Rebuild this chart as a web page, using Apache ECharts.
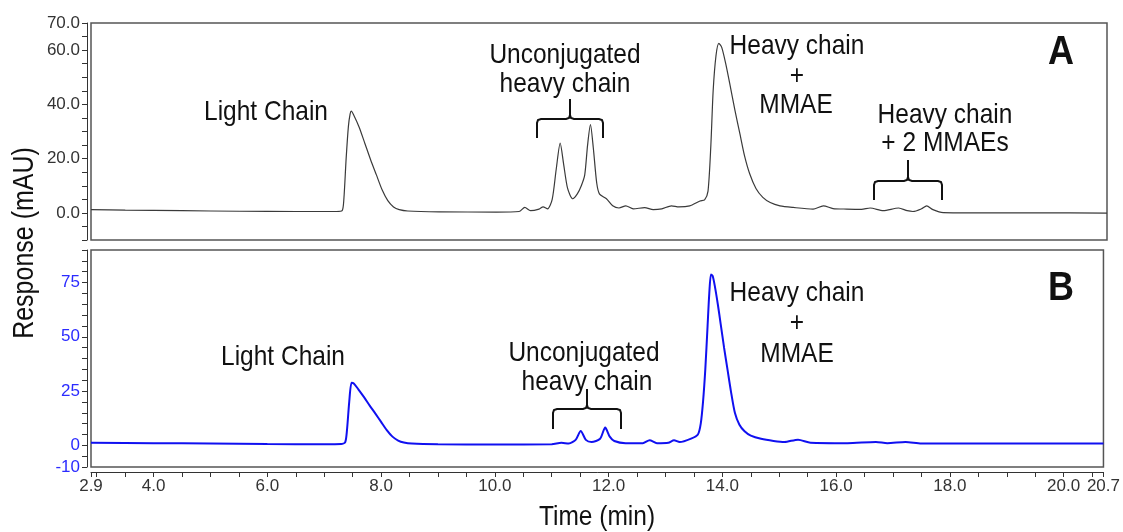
<!DOCTYPE html>
<html><head><meta charset="utf-8">
<script src="https://cdn.jsdelivr.net/npm/echarts@6/dist/echarts.min.js"></script>
<style>html,body{margin:0;padding:0;background:#fff}#c{width:1123px;height:532px}</style>
</head><body><div id="c"></div>
<script>
// ---- Data ----
const timeA = [2.9,3.5,4.5,5.5,6.5,7.2,7.3,7.33,7.37,7.41,7.44,7.46,7.5,7.6,7.7,7.8,7.9,8.0,8.1,8.2,8.3,8.45,9.0,10.0,10.4,10.5,10.6,10.75,10.82,10.9,10.98,11.05,11.12,11.18,11.25,11.34,11.42,11.49,11.55,11.6,11.65,11.7,11.76,11.81,11.93,12.04,12.15,12.27,12.4,12.6,12.75,12.9,13.07,13.2,13.39,13.57,13.65,13.71,13.76,13.8,13.85,13.9,13.95,14.02,14.09,14.18,14.27,14.35,14.44,14.55,14.67,14.8,14.97,15.2,15.55,15.73,15.9,16.14,16.4,16.55,16.78,17.05,17.2,17.3,17.45,17.54,17.65,17.83,18.5,19.5,20.7];
const respA = [1.2,1.0,0.8,0.6,0.5,0.5,0.8,5,20,32,36.5,37.5,36.2,31.5,25.5,19.5,14,8.5,4.5,2.2,1.2,0.7,0.4,0.3,0.5,2.0,0.8,1.4,2.2,1.5,5,16,25.7,18,9,5.2,7,10,14,25,32.5,24,11,6.9,5.2,2.6,1.8,2.6,1.5,1.9,1.2,1.5,2.6,2.2,2.6,4.4,4.8,8,25,45,58,62.5,61,55,47.7,38,29,21,14.4,9,5.7,3.8,2.6,2.0,1.4,2.6,1.6,1.4,1.3,1.8,0.8,1.8,0.8,0.5,1.5,2.6,1.2,0.1,0,0,-0.1];
const timeB = [2.9,4,5,6,7,7.3,7.37,7.4,7.44,7.48,7.52,7.6,7.7,7.8,7.9,8.0,8.1,8.2,8.3,8.4,8.54,9,10,11,11.17,11.3,11.42,11.51,11.6,11.7,11.85,11.94,12.02,12.1,12.3,12.6,12.72,12.85,13.05,13.15,13.25,13.45,13.57,13.62,13.66,13.7,13.74,13.77,13.8,13.83,13.87,13.92,13.97,14.03,14.09,14.15,14.22,14.3,14.39,14.5,14.68,14.9,15.09,15.33,15.55,16.2,16.7,16.9,17.22,17.5,18.5,20.7];
const respB = [1.2,1.0,0.8,0.6,0.5,0.6,1.5,6.9,20,28.8,28.5,25.8,22.2,18.3,14.6,10.8,7.0,4.0,2.2,1.3,0.8,0.5,0.4,0.5,1.2,0.8,2.5,6.6,2.5,1.5,3,8.2,4,2.0,1.0,1.0,2.3,1.0,1.2,2.3,1.5,3.1,5,10,20,35,55,70,78.7,78,73,65,56,45,35,25,15,9.5,6.5,4.5,3.0,2.0,1.5,2.6,1.2,1.0,1.5,1.0,1.5,0.8,0.8,0.8];
const xLabels = [2.9, 4, 6, 8, 10, 12, 14, 16, 18, 20, 20.7];
const yLabelsA = [0, 20, 40, 60, 70];
const yLabelsB = [-10, 0, 25, 50, 75];
const xRange = [2.9, 20.7];
const yRangeA = [-10, 70];
const yRangeB = [-10, 90];

// ---- ticks ----
const xTicks = [2.9];
for (let v = 3.0; v <= 20.5 + 1e-9; v += 0.5) xTicks.push(+v.toFixed(1));
xTicks.push(20.7);
const yTicksA = []; for (let v = yRangeA[0]; v <= yRangeA[1]; v += 5) yTicksA.push(v);
const yTicksB = []; for (let v = yRangeB[0]; v <= yRangeB[1]; v += 5) yTicksB.push(v);

const FONT = '"Liberation Sans", Arial, sans-serif';
const chart = echarts.init(document.getElementById('c'), null, {renderer: 'canvas'});

function yAxisCfg(idx, range, ticks, labels, color, fmt) {
  return {
    gridIndex: idx, type: 'value', min: range[0], max: range[1], offset: 4,
    splitLine: {show: false},
    axisLine: {show: true, onZero: false, lineStyle: {color: '#333', width: 1}},
    axisTick: {show: true, customValues: ticks, length: 5, lineStyle: {color: '#333'}},
    axisLabel: {customValues: labels, formatter: fmt, margin: 7, color: color, fontSize: 17, fontFamily: FONT}
  };
}

function txt(x, y, s, size, bold, sy) {
  return {type: 'text', x: x, y: y, scaleY: sy || 1.15, z: 100,
    style: {text: s, x: 0, y: 0, font: (bold ? 'bold ' : '') + size + 'px ' + FONT, fill: '#111',
      align: 'center', verticalAlign: 'middle', textAlign: 'center', textVerticalAlign: 'middle'}};
}
function brace(l, r, mid, yBar, yEnd, yTop) {
  const c = 4;
  const st = {fill: null, stroke: '#111', lineWidth: 2};
  return [
    {type: 'polyline', z: 100, shape: {points: [[l, yEnd], [l, yBar + c], [l + 1, yBar + 1], [l + c, yBar], [mid - c, yBar], [mid - 1, yBar - 1], [mid, yBar - c], [mid, yTop]]}, style: st},
    {type: 'polyline', z: 100, shape: {points: [[r, yEnd], [r, yBar + c], [r - 1, yBar + 1], [r - c, yBar], [mid + c, yBar], [mid + 1, yBar - 1], [mid, yBar - c]]}, style: st}
  ];
}

const option = {
  backgroundColor: '#fff',
  animation: false,
  grid: [
    {left: 91, top: 23, width: 1016, height: 217, show: true, borderColor: '#555', borderWidth: 1.5, backgroundColor: 'transparent'},
    {left: 91, top: 250, width: 1016, height: 217, show: true, borderColor: '#555', borderWidth: 1.5, backgroundColor: 'transparent'}
  ],
  xAxis: [
    {gridIndex: 0, type: 'value', min: xRange[0], max: xRange[1], show: false},
    {gridIndex: 1, type: 'value', min: xRange[0], max: xRange[1], offset: 5,
      splitLine: {show: false},
      axisLine: {show: true, onZero: false, lineStyle: {color: '#333', width: 1}},
      axisTick: {show: true, customValues: xTicks, length: 5, lineStyle: {color: '#333'}},
      axisLabel: {customValues: xLabels, formatter: v => v.toFixed(1), margin: 6, color: '#333', fontSize: 17, fontFamily: FONT}}
  ],
  yAxis: [
    yAxisCfg(0, yRangeA, yTicksA, yLabelsA, '#333', v => v.toFixed(1)),
    yAxisCfg(1, yRangeB, yTicksB, yLabelsB, '#2b2bff', v => String(v))
  ],
  series: [
    {type: 'line', xAxisIndex: 0, yAxisIndex: 0, showSymbol: false, smooth: 0.25,
      lineStyle: {color: '#3a3a3a', width: 1.2}, data: timeA.map((t, i) => [t, respA[i]])},
    {type: 'line', xAxisIndex: 1, yAxisIndex: 1, showSymbol: false, smooth: 0.25,
      lineStyle: {color: '#1010f0', width: 2}, data: timeB.map((t, i) => [t, respB[i]])}
  ],
  graphic: [
    // panel A annotations
    txt(266, 112, 'Light Chain', 24.5),
    txt(565, 55, 'Unconjugated', 24.5),
    txt(565, 84, 'heavy chain', 24.5),
    ...brace(537, 603, 570, 119, 138, 99),
    txt(797, 46, 'Heavy chain', 24.5),
    txt(797, 76, '+', 24.5),
    txt(796, 105, 'MMAE', 24.5),
    txt(945, 115, 'Heavy chain', 24.5),
    txt(945, 143, '+ 2 MMAEs', 24.5),
    ...brace(874, 942, 908, 181, 200, 160),
    txt(1061, 53, 'A', 36, true, 1.12),
    // panel B annotations
    txt(283, 357, 'Light Chain', 24.5),
    txt(584, 353, 'Unconjugated', 24.5),
    txt(587, 382, 'heavy chain', 24.5),
    ...brace(553, 621, 587, 409, 429, 389),
    txt(797, 293, 'Heavy chain', 24.5),
    txt(797, 323, '+', 24.5),
    txt(797, 354, 'MMAE', 24.5),
    txt(1061, 289, 'B', 36, true, 1.12),
    // axis titles
    {type: 'text', x: 25, y: 243, rotation: Math.PI / 2, scaleY: 1.15, z: 100,
      style: {text: 'Response (mAU)', x: 0, y: 0, font: '25px ' + FONT, fill: '#111', align: 'center', verticalAlign: 'middle', textAlign: 'center', textVerticalAlign: 'middle'}},
    txt(597, 517, 'Time (min)', 24.5)
  ]
};
chart.setOption(option);
</script>
</body></html>
